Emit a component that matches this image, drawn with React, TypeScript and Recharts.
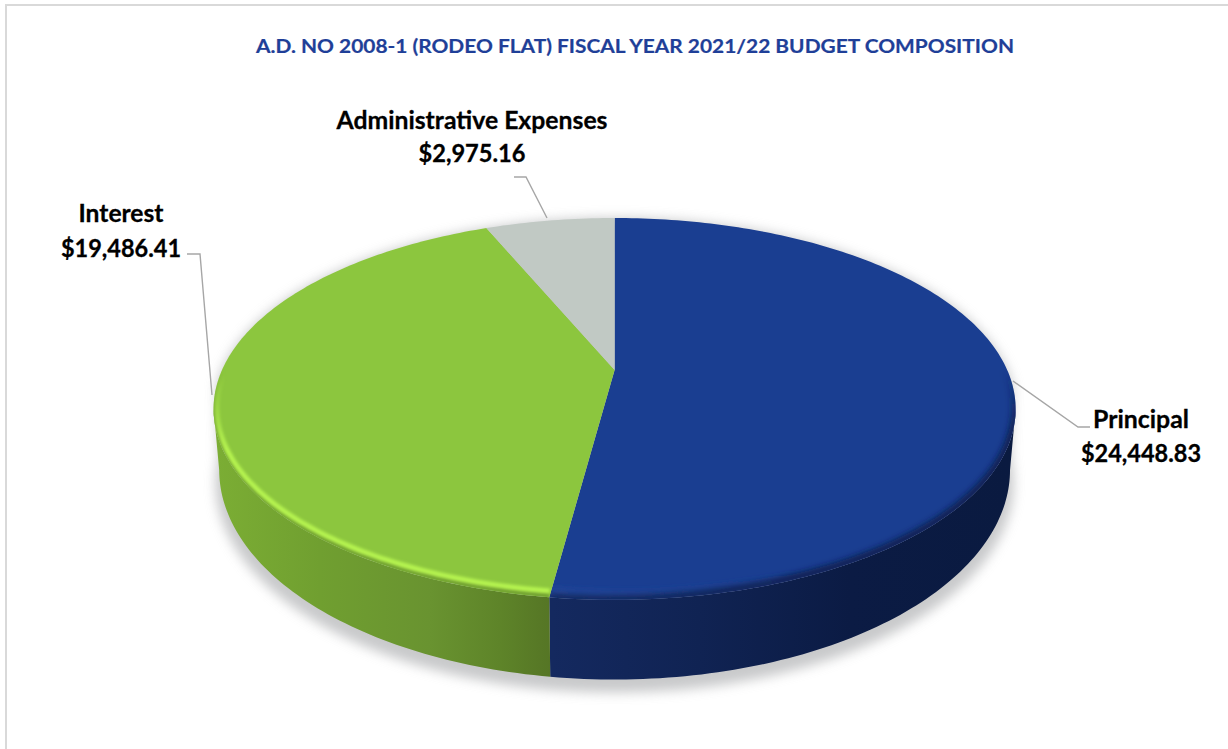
import React from 'react';
import { PieChart, Pie } from 'recharts';

const categories = ['Principal', 'Interest', 'Administrative Expenses'];
const amounts = [24448.83, 19486.41, 2975.16];
const titleText = 'A.D. NO 2008-1 (RODEO FLAT) FISCAL YEAR 2021/22 BUDGET COMPOSITION';

const topColors = ['#1A3E91', '#8CC63E', '#C1C9C4'];
const ridgeColors = ['#2A50AA', '#B6F450', '#C1C9C4'];
const edgeColors = ['#0C1D48', '#6C9A2E', '#C1C9C4'];
const wallStops: [number, string][][] = [
  [[552, '#14295F'], [700, '#102353'], [850, '#0B1B44'], [1010, '#0A1A40']],
  [[218, '#7BAD34'], [320, '#709F30'], [430, '#699330'], [500, '#5E8429'], [552, '#557525']],
  [[400, '#C1C9C4'], [600, '#C1C9C4']],
];

const labelLayouts = [
  { lines: [[1013, 381], [1078, 427], [1090, 427]], x: 1141, y1: 428, y2: 462, w1: 96, w2: 120 },
  { lines: [[212, 395], [200, 254], [187, 254]], x: 121, y1: 222, y2: 257, w1: 85, w2: 120 },
  { lines: [[547, 218], [526, 177], [514, 177]], x: 472, y1: 129, y2: 162, w1: 271, w2: 107 },
];

const chartData = categories.map((name, i) => ({ name, value: amounts[i] }));

const FONT = 'Lato, "Open Sans", sans-serif';
const PERSPECTIVE = -0.204;
const TOP = { rx: 1, ry: 0.466, dy: 0 };
const BOTTOM = { rx: 0.986, ry: 0.512, dy: 57 };
const RIDGE = { rx: 0.992, ry: 0.453, dy: 0 };
const EDGE = { rx: 0.999, ry: 0.462, dy: 0 };
const SHADOW = { rx: 0.995, ry: 0.512, dy: 70 };

// maps a compass angle on the disc to the tilted picture plane
function project(theta: number, cx: number, cy: number, R: number, plane = TOP) {
  const t = (theta * Math.PI) / 180;
  const u = Math.sin(t);
  const v = -Math.cos(t);
  const d = 1 + PERSPECTIVE * v;
  return [cx + (R * plane.rx * u) / d, cy + plane.dy + (R * plane.ry * v) / d];
}

function arc(a: number, b: number, cx: number, cy: number, R: number, plane = TOP) {
  const pts: number[][] = [];
  const n = Math.max(2, Math.ceil(Math.abs(b - a)));
  for (let i = 0; i <= n; i++) pts.push(project(a + ((b - a) * i) / n, cx, cy, R, plane));
  return pts;
}

const toPath = (pts: number[][], close = false) =>
  pts.map((p, i) => `${i ? 'L' : 'M'}${p[0].toFixed(2)} ${p[1].toFixed(2)}`).join('') + (close ? 'Z' : '');

const WALL_MIN = 101.8;
const WALL_MAX = 258.2;

function Slice3D(props: any) {
  const { cx, cy, outerRadius: R, startAngle, endAngle, name } = props;
  const i = categories.indexOf(name);
  const a = 90 - startAngle;
  const b = 90 - endAngle;
  const top = toPath([[cx, cy], ...arc(a, b, cx, cy, R)], true);
  const wa = Math.max(a, WALL_MIN);
  const wb = Math.min(b, WALL_MAX);
  const hasWall = wb > wa;
  const wall = hasWall
    ? toPath([...arc(wa, wb, cx, cy, R), ...arc(wb, wa, cx, cy, R, BOTTOM)], true)
    : '';
  const ra = Math.max(a, 88);
  const rb = Math.min(b, 275);
  const frontEdge = rb > ra ? toPath(arc(ra, rb, cx, cy, R, EDGE)) : '';
  const ridge = rb > ra ? toPath(arc(ra, rb, cx, cy, R, RIDGE)) : '';
  return (
    <g>
      <defs>
        <filter id="soft-shadow" x="-10%" y="-10%" width="120%" height="130%">
          <feGaussianBlur stdDeviation="6" />
        </filter>
        <filter id={`blur-${i}`} filterUnits="userSpaceOnUse" x="0" y="0" width="1228" height="749">
          <feGaussianBlur stdDeviation={i === 0 ? 3 : 1.6} />
        </filter>
        <linearGradient id={`wall-${i}`} gradientUnits="userSpaceOnUse" x1="0" y1="0" x2="1228" y2="0">
          {wallStops[i].map(([x, c]) => (
            <stop key={x} offset={x / 1228} stopColor={c} />
          ))}
        </linearGradient>
        {i === 0 ? (
          <linearGradient id="ridge-0" gradientUnits="userSpaceOnUse" x1="552" y1="0" x2="800" y2="0">
            <stop offset="0" stopColor={ridgeColors[0]} stopOpacity={1} />
            <stop offset="1" stopColor={ridgeColors[0]} stopOpacity={0} />
          </linearGradient>
        ) : (
          <linearGradient id={`ridge-${i}`} gradientUnits="userSpaceOnUse" x1="0" y1="375" x2="0" y2="450">
            <stop offset="0" stopColor={ridgeColors[i]} stopOpacity={0} />
            <stop offset="1" stopColor={ridgeColors[i]} stopOpacity={1} />
          </linearGradient>
        )}
        <linearGradient id={`edge-${i}`} gradientUnits="userSpaceOnUse" x1="0" y1="370" x2="0" y2="430">
          <stop offset="0" stopColor={edgeColors[i]} stopOpacity={0} />
          <stop offset="1" stopColor={edgeColors[i]} stopOpacity={1} />
        </linearGradient>
        <clipPath id={`clip-${i}`}>
          <path d={top} />
        </clipPath>
      </defs>
      {i === 0 && (
        <path
          d={toPath(arc(95, 265, cx, cy, R, SHADOW).concat(arc(265, 455, cx, cy, R)), true)}
          fill="#A4A6A8"
          opacity={0.6}
          filter="url(#soft-shadow)"
        />
      )}
      {hasWall && <path d={wall} fill={`url(#wall-${i})`} />}
      <path d={top} fill={topColors[i]} />
      {hasWall && (
        <g clipPath={`url(#clip-${i})`}>
          <g filter={`url(#blur-${i})`}>
            <path d={frontEdge} fill="none" stroke={`url(#edge-${i})`} strokeWidth={i === 0 ? 7 : 4} />
            <path d={ridge} fill="none" stroke={`url(#ridge-${i})`} strokeWidth={i === 0 ? 3.5 : 5} />
          </g>
        </g>
      )}
    </g>
  );
}

const money = (v: number) =>
  '$' + v.toLocaleString('en-US', { minimumFractionDigits: 2, maximumFractionDigits: 2 });

function SliceLabel(props: any) {
  const { name, value } = props;
  const l = labelLayouts[categories.indexOf(name)];
  const common = {
    x: l.x,
    textAnchor: 'middle' as const,
    fontFamily: FONT,
    fontWeight: 700,
    fontSize: 25,
    fill: '#000',
    stroke: '#000',
    strokeWidth: 0.3,
    lengthAdjust: 'spacingAndGlyphs' as const,
  };
  return (
    <g>
      <polyline points={l.lines.map((p) => p.join(',')).join(' ')} fill="none" stroke="#A6A6A6" strokeWidth={1.4} />
      <text {...common} y={l.y1} textLength={l.w1}>{name}</text>
      <text {...common} y={l.y2} textLength={l.w2}>{money(value)}</text>
    </g>
  );
}

export default function App() {
  return (
    <div style={{ position: 'absolute', left: 0, top: 0, width: 1228, height: 749, background: '#fff', overflow: 'hidden' }}>
      <div
        style={{
          position: 'absolute',
          left: 5,
          top: 4,
          width: 1300,
          height: 900,
          border: '2px solid #D9D9D9',
          boxSizing: 'border-box',
        }}
      />
      <div style={{ position: 'absolute', left: 0, top: 0 }}>
        <PieChart width={1228} height={749} margin={{ top: 0, right: 0, bottom: 0, left: 0 }}>
          <text
            x={635}
            y={53}
            textAnchor="middle"
            fontFamily={FONT}
            fontWeight={700}
            fontSize={19.5}
            fill="#1F3F98"
            stroke="#1F3F98"
            strokeWidth={0.2}
            textLength={758}
            lengthAdjust="spacingAndGlyphs"
          >
            {titleText}
          </text>
          <Pie
            data={chartData}
            dataKey="value"
            nameKey="name"
            cx={614.6}
            cy={370}
            innerRadius={0}
            outerRadius={392.6}
            startAngle={90}
            endAngle={-270}
            stroke="none"
            shape={Slice3D}
            label={SliceLabel}
            labelLine={false}
            isAnimationActive={false}
          />
        </PieChart>
      </div>
    </div>
  );
}
